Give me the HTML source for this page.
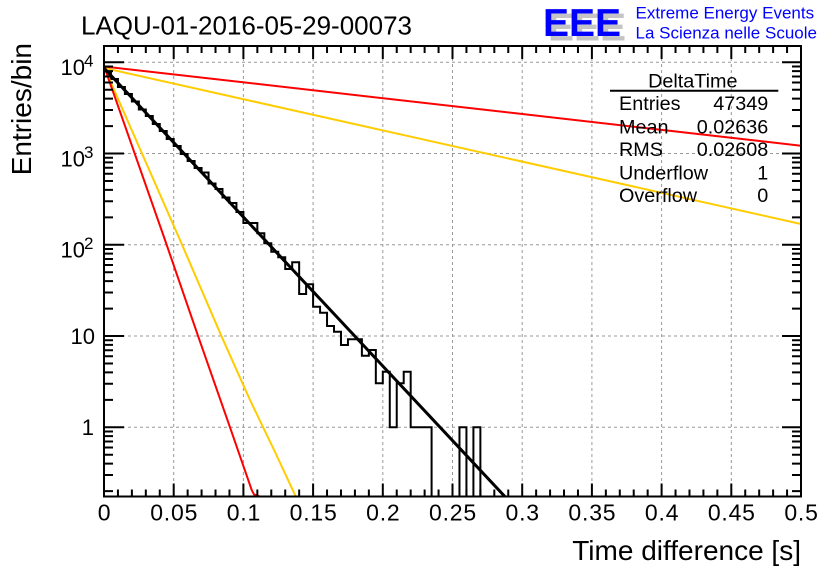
<!DOCTYPE html>
<html><head><meta charset="utf-8"><style>
html,body{margin:0;padding:0;background:#fff;}
svg{display:block;}
text{font-family:"Liberation Sans",Arial,sans-serif;}
</style></head><body>
<svg width="836" height="572" viewBox="0 0 836 572" xmlns="http://www.w3.org/2000/svg">
<defs><clipPath id="c"><rect x="104" y="46" width="697" height="450.5"/></clipPath></defs>
<rect width="836" height="572" fill="#fff"/>
<!-- grid -->
<g stroke="#999" stroke-width="1" stroke-dasharray="3,3" fill="none">
<path d="M173.7,46V496.5M243.4,46V496.5M313.1,46V496.5M382.8,46V496.5M452.5,46V496.5M522.2,46V496.5M591.9,46V496.5M661.6,46V496.5M731.3,46V496.5"/>
<path d="M104,427.3H801M104,336.05H801M104,244.8H801M104,153.55H801M104,62.3H801"/>
</g>
<g clip-path="url(#c)" fill="none" stroke-linejoin="miter">
<!-- histogram -->
<path stroke="#000" stroke-width="2" d="M104,496.5 V71.5 H110.97 V79 H117.94 V87 H124.91 V94 H131.88 V101.5 H138.85 V109.5 H145.82 V116 H152.79 V124 H159.76 V131 H166.73 V139 H173.7 V146 H180.67 V154 H187.64 V161 H194.61 V168 H201.58 V172.5 H208.55 V183.5 H215.52 V189 H222.49 V197.5 H229.46 V203 H236.43 V212 H243.4 V223 H257.34 V233.3 H264.31 V243.3 H271.28 V251.7 H278.25 V257.3 H285.22 V269 H292.19 V262.3 H299.16 V294 H306.13 V284.3 H313.1 V306.7 H320.07 V312.7 H327.04 V326 H334.01 V331.7 H340.98 V345 H347.95 V339.3 H361.89 V355.7 H368.86 V350 H375.83 V383.3 H382.8 V371.7 H389.77 V427.3 H396.74 V383.3 H403.71 V371.7 H410.68 V427.3 H431.59 V496.5 H459.47 V427.3 H466.44 V496.5 H473.41 V427.3 H480.38 V496.5 H801"/>
<!-- flat functions -->
<path stroke="#ffcc00" stroke-width="2" d="M104,68 L801,224"/>
<path stroke="#ff0000" stroke-width="2" d="M104,66.5 L801,145.7"/>
<!-- steep functions -->
<path stroke="#ffcc00" stroke-width="2" d="M104,67 L180,240 L221.7,336.7 L250,400 L275,452 L296,497"/>
<path stroke="#ff0000" stroke-width="2" d="M104,66 L165,240 L198.3,336.7 L230,427.3 L251.7,490 L254,494.5 L261,497"/>
<!-- fit -->
<path stroke="#000" stroke-width="3" d="M104,68 L505,496.7"/>
</g>
<!-- frame -->
<rect x="104" y="46" width="697" height="450.5" fill="none" stroke="#000" stroke-width="2"/>
<!-- x ticks bottom/top -->
<g stroke="#000" stroke-width="2" fill="none">
<path d="M104,496.5v-13M117.94,496.5v-7M131.88,496.5v-7M145.82,496.5v-7M159.76,496.5v-7M173.7,496.5v-13M187.64,496.5v-7M201.58,496.5v-7M215.52,496.5v-7M229.46,496.5v-7M243.4,496.5v-13M257.34,496.5v-7M271.28,496.5v-7M285.22,496.5v-7M299.16,496.5v-7M313.1,496.5v-13M327.04,496.5v-7M340.98,496.5v-7M354.92,496.5v-7M368.86,496.5v-7M382.8,496.5v-13M396.74,496.5v-7M410.68,496.5v-7M424.62,496.5v-7M438.56,496.5v-7M452.5,496.5v-13M466.44,496.5v-7M480.38,496.5v-7M494.32,496.5v-7M508.26,496.5v-7M522.2,496.5v-13M536.14,496.5v-7M550.08,496.5v-7M564.02,496.5v-7M577.96,496.5v-7M591.9,496.5v-13M605.84,496.5v-7M619.78,496.5v-7M633.72,496.5v-7M647.66,496.5v-7M661.6,496.5v-13M675.54,496.5v-7M689.48,496.5v-7M703.42,496.5v-7M717.36,496.5v-7M731.3,496.5v-13M745.24,496.5v-7M759.18,496.5v-7M773.12,496.5v-7M787.06,496.5v-7M801,496.5v-13"/>
<path d="M104,46v13M117.94,46v7M131.88,46v7M145.82,46v7M159.76,46v7M173.7,46v13M187.64,46v7M201.58,46v7M215.52,46v7M229.46,46v7M243.4,46v13M257.34,46v7M271.28,46v7M285.22,46v7M299.16,46v7M313.1,46v13M327.04,46v7M340.98,46v7M354.92,46v7M368.86,46v7M382.8,46v13M396.74,46v7M410.68,46v7M424.62,46v7M438.56,46v7M452.5,46v13M466.44,46v7M480.38,46v7M494.32,46v7M508.26,46v7M522.2,46v13M536.14,46v7M550.08,46v7M564.02,46v7M577.96,46v7M591.9,46v13M605.84,46v7M619.78,46v7M633.72,46v7M647.66,46v7M661.6,46v13M675.54,46v7M689.48,46v7M703.42,46v7M717.36,46v7M731.3,46v13M745.24,46v7M759.18,46v7M773.12,46v7M787.06,46v7M801,46v13"/>
<!-- y ticks left -->
<path d="M104,427.3h20M104,336.05h20M104,244.8h20M104,153.55h20M104,62.3h20"/>
<path d="M104,491.08h9M104,475.01h9M104,463.62h9M104,454.77h9M104,447.55h9M104,441.44h9M104,436.15h9M104,431.5h9
M104,399.83h9M104,383.76h9M104,372.37h9M104,363.52h9M104,356.3h9M104,350.19h9M104,344.9h9M104,340.25h9
M104,308.58h9M104,292.51h9M104,281.12h9M104,272.27h9M104,265.05h9M104,258.94h9M104,253.65h9M104,249h9
M104,217.33h9M104,201.26h9M104,189.87h9M104,181.02h9M104,173.8h9M104,167.69h9M104,162.4h9M104,157.75h9
M104,126.08h9M104,110.01h9M104,98.62h9M104,89.77h9M104,82.55h9M104,76.44h9M104,71.15h9M104,66.5h9"/>
<!-- y ticks right -->
<path d="M801,427.3h-19M801,336.05h-19M801,244.8h-19M801,153.55h-19M801,62.3h-19"/>
<path d="M801,491.08h-9M801,475.01h-9M801,463.62h-9M801,454.77h-9M801,447.55h-9M801,441.44h-9M801,436.15h-9M801,431.5h-9
M801,399.83h-9M801,383.76h-9M801,372.37h-9M801,363.52h-9M801,356.3h-9M801,350.19h-9M801,344.9h-9M801,340.25h-9
M801,308.58h-9M801,292.51h-9M801,281.12h-9M801,272.27h-9M801,265.05h-9M801,258.94h-9M801,253.65h-9M801,249h-9
M801,217.33h-9M801,201.26h-9M801,189.87h-9M801,181.02h-9M801,173.8h-9M801,167.69h-9M801,162.4h-9M801,157.75h-9
M801,126.08h-9M801,110.01h-9M801,98.62h-9M801,89.77h-9M801,82.55h-9M801,76.44h-9M801,71.15h-9M801,66.5h-9"/>
</g>
<!-- x labels -->
<g font-size="23" text-anchor="middle" fill="#000" letter-spacing="0.8">
<text x="104.5" y="520.5">0</text>
<text x="174.2" y="520.5">0.05</text>
<text x="243.9" y="520.5">0.1</text>
<text x="313.6" y="520.5">0.15</text>
<text x="383.3" y="520.5">0.2</text>
<text x="453" y="520.5">0.25</text>
<text x="522.7" y="520.5">0.3</text>
<text x="592.4" y="520.5">0.35</text>
<text x="662.1" y="520.5">0.4</text>
<text x="731.8" y="520.5">0.45</text>
<text x="801.5" y="520.5">0.5</text>
</g>
<!-- y labels -->
<g font-size="22" text-anchor="end" fill="#000">
<text x="94" y="435">1</text>
<text x="95" y="344">10</text>
<text x="85" y="257.5">10</text>
<text x="85" y="166.3">10</text>
<text x="85" y="75">10</text>
</g>
<g font-size="17" text-anchor="end" fill="#000">
<text x="93.5" y="249.2">2</text>
<text x="93.5" y="158">3</text>
<text x="93.5" y="66.7">4</text>
</g>
<!-- axis titles -->
<text x="801" y="560" font-size="28" text-anchor="end" fill="#000">Time difference [s]</text>
<text transform="translate(31,43) rotate(-90)" font-size="28" text-anchor="end" fill="#000">Entries/bin</text>
<!-- title -->
<text x="81" y="34.3" font-size="26" fill="#000">LAQU-01-2016-05-29-00073</text>
<!-- EEE logo -->
<text x="548" y="40.5" font-size="39" font-weight="bold" fill="#c4c4c4">EEE</text>
<text x="543" y="36" font-size="39" font-weight="bold" fill="#0000ff">EEE</text>
<text x="635.5" y="18.3" font-size="17" fill="#0000ff">Extreme Energy Events</text>
<text x="635.5" y="38.3" font-size="17" fill="#0000ff">La Scienza nelle Scuole</text>
<!-- stats box -->
<g font-size="19.8" fill="#000">
<text x="692.8" y="87.3" text-anchor="middle">DeltaTime</text>
<text x="619" y="110">Entries</text>
<text x="768.3" y="110" text-anchor="end">47349</text>
<text x="619" y="133.3">Mean</text>
<text x="768.3" y="133.3" text-anchor="end">0.02636</text>
<text x="619" y="156">RMS</text>
<text x="768.3" y="156" text-anchor="end">0.02608</text>
<text x="619" y="179.3">Underflow</text>
<text x="768.3" y="179.3" text-anchor="end">1</text>
<text x="619" y="202">Overflow</text>
<text x="768.3" y="202" text-anchor="end">0</text>
</g>
<path d="M610,90.7H778.3" stroke="#000" stroke-width="2"/>
</svg>
</body></html>
